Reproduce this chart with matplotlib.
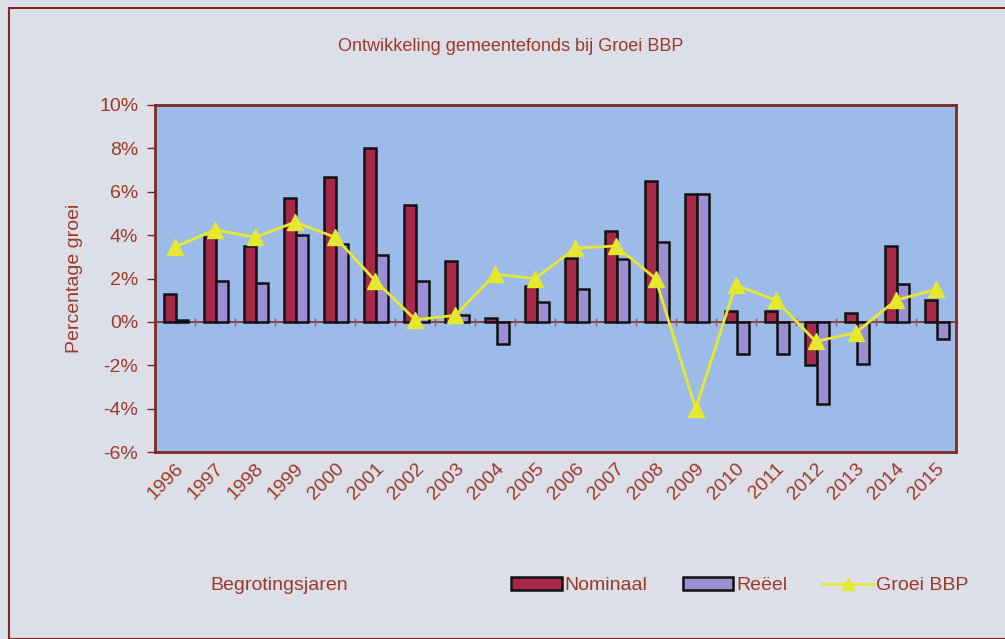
import numpy as np
import matplotlib.pyplot as plt
from matplotlib.patches import Rectangle, Patch
from matplotlib.lines import Line2D
from matplotlib.ticker import FuncFormatter

plt.rcParams['font.family'] = ['Liberation Sans', 'DejaVu Sans']

# Data (percent)
years = ['1996', '1997', '1998', '1999', '2000', '2001', '2002', '2003', '2004', '2005',
         '2006', '2007', '2008', '2009', '2010', '2011', '2012', '2013', '2014', '2015']
nominaal = [1.3, 3.9, 3.5, 5.7, 6.7, 8.0, 5.4, 2.8, 0.2, 1.65,
            2.95, 4.2, 6.5, 5.9, 0.5, 0.5, -2.0, 0.4, 3.5, 1.0]
reeel = [0.1, 1.9, 1.8, 4.0, 3.6, 3.1, 1.9, 0.3, -1.0, 0.9,
         1.5, 2.9, 3.7, 5.9, -1.5, -1.5, -3.8, -1.95, 1.75, -0.8]
groei_bbp = [3.45, 4.25, 3.9, 4.6, 3.9, 1.9, 0.1, 0.3, 2.2, 2.0,
             3.4, 3.5, 2.0, -4.0, 1.7, 1.0, -0.9, -0.5, 1.0, 1.5]

txt = '#9c3a28'
frame = '#7e2a22'
bg = '#dcdee8'
plot_bg = '#9dbbe8'
c_nom = '#a8284a'
c_reel = '#9b8fd4'
c_bbp = '#e6e82e'

fig = plt.figure(figsize=(10.05, 6.39), dpi=100, facecolor=bg)
# outer chart frame
fig.patches.append(Rectangle((9 / 1005, 0), 1, 1 - 8 / 639, transform=fig.transFigure,
                             fill=False, edgecolor=frame, linewidth=1.5))

ax = fig.add_axes([0.1542, 0.2926, 0.797, 0.5431])
ax.set_facecolor(plot_bg)

x = np.arange(len(years))
w = 0.3
ax.bar(x - w / 2 + 0.03, nominaal, w, color=c_nom, edgecolor='#111111', linewidth=1.8, zorder=3)
ax.bar(x + w / 2 + 0.03, reeel, w, color=c_reel, edgecolor='#111111', linewidth=1.8, zorder=3)

# zero line with category ticks
ax.axhline(0, color=frame, linewidth=1.2, zorder=2)
ax.vlines(x[:-1] + 0.5, -0.18, 0.18, color='#8a5a70', linewidth=1, zorder=2)

ax.plot(x, groei_bbp, color=c_bbp, linewidth=2, marker='^', markersize=11,
        markerfacecolor=c_bbp, markeredgecolor=c_bbp, zorder=4)

ax.set_xlim(-0.5, len(years) - 0.5)
ax.set_ylim(-6, 10)
ax.set_yticks(np.arange(-6, 11, 2))
ax.yaxis.set_major_formatter(FuncFormatter(lambda v, p: f'{v:.0f}%'))
ax.set_xticks(x)
ax.set_xticklabels(years, rotation=45, ha='right', rotation_mode='anchor')
ax.tick_params(axis='x', length=0, pad=6, labelsize=14, labelcolor=txt)
ax.tick_params(axis='y', length=6, width=1, color=frame, pad=6, labelsize=14, labelcolor=txt)
for s in ax.spines.values():
    s.set_color(frame)
    s.set_linewidth(2)

ax.set_ylabel('Percentage groei', fontsize=14, color=txt, labelpad=12)
fig.text(0.508, 0.928, 'Ontwikkeling gemeentefonds bij Groei BBP', ha='center', va='center',
         fontsize=13, color=txt)
fig.text(0.209, 0.083, 'Begrotingsjaren', ha='left', va='center', fontsize=14, color=txt)

handles = [Patch(facecolor=c_nom, edgecolor='#111111', linewidth=1.8),
           Patch(facecolor=c_reel, edgecolor='#111111', linewidth=1.8),
           Line2D([], [], color=c_bbp, linewidth=2, marker='^', markersize=9)]
leg = fig.legend(handles, ['Nominaal', 'Reëel', 'Groei BBP'], ncol=3, loc='center',
                 bbox_to_anchor=(0.736, 0.083), frameon=False, fontsize=14,
                 handlelength=2.6, handleheight=0.6, handletextpad=0.15, columnspacing=1.8)
for t in leg.get_texts():
    t.set_color(txt)

fig.savefig('out.png', dpi=100, facecolor=bg)
